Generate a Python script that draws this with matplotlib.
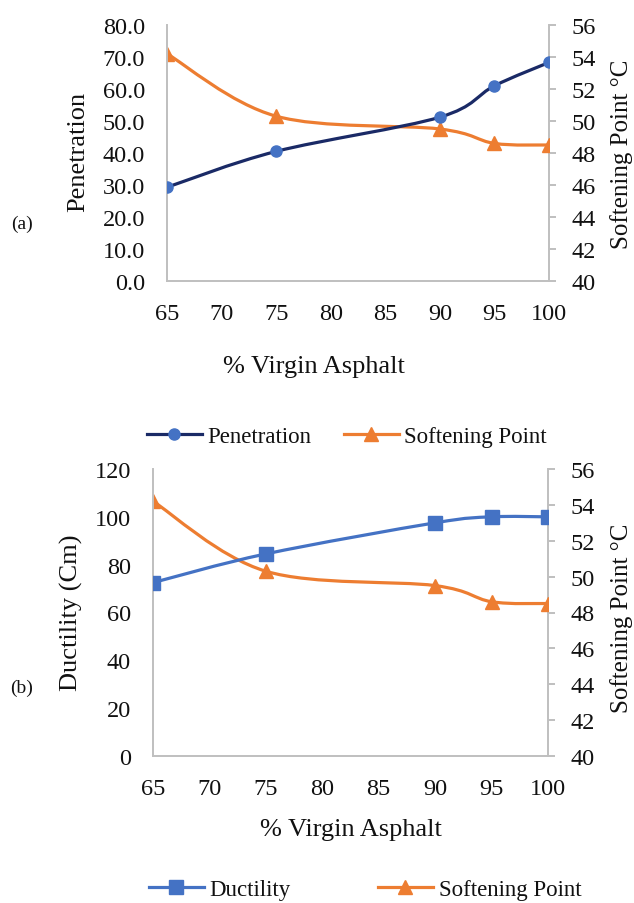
import numpy as np
import matplotlib
matplotlib.use("Agg")
import matplotlib.pyplot as plt
from matplotlib.path import Path
from matplotlib.patches import PathPatch
from matplotlib.lines import Line2D

plt.rcParams['font.family'] = ['Liberation Serif', 'DejaVu Serif']

# data
virgin = [65, 75, 90, 95, 100]
penetration = [29.3, 40.5, 51.2, 61.0, 68.3]
softening = [54.2, 50.3, 49.5, 48.6, 48.5]
ductility = [72.5, 84.5, 97.5, 100.0, 100.0]
x_ticks = [65, 70, 75, 80, 85, 90, 95, 100]

NAVY = '#1a2a66'
BLUE = '#4472C4'
ORANGE = '#ED7D31'
GRAY = '#BFBFBF'
TXT = '#111111'

W, H = 634, 904
TICK_FS = 17.5
LABEL_FS = 19


def smooth_path(xs, ys):
    # excel-like smoothed line: cubic bezier through the points
    pts = np.column_stack([xs, ys]).astype(float)
    n = len(pts)
    verts = [pts[0]]
    codes = [Path.MOVETO]
    for i in range(n - 1):
        p0 = pts[max(i - 1, 0)]
        p1 = pts[i]
        p2 = pts[i + 1]
        p3 = pts[min(i + 2, n - 1)]
        verts += [p1 + (p2 - p0) / 6, p2 - (p3 - p1) / 6, p2]
        codes += [Path.CURVE4] * 3
    return Path(verts, codes)


def box(l, r, t, b):
    return [l / W, 1 - b / H, (r - l) / W, (b - t) / H]


def style(ax, ax2, ylim, yticks, yfmt):
    ax.set_xlim(65, 100)
    ax.set_ylim(*ylim)
    ax.set_xticks(x_ticks)
    ax.set_yticks(yticks)
    ax.set_yticklabels([yfmt % v for v in yticks])
    ax2.set_ylim(40, 56)
    ax2.set_yticks(range(40, 57, 2))
    for a in (ax, ax2):
        for s in a.spines.values():
            s.set_visible(False)
        a.patch.set_visible(False)
    ax.spines['left'].set_visible(True)
    ax.spines['bottom'].set_visible(True)
    ax2.spines['right'].set_visible(True)
    for s in (ax.spines['left'], ax.spines['bottom'], ax2.spines['right']):
        s.set_color(GRAY)
        s.set_linewidth(1.4)
    ax.tick_params(axis='both', length=0, labelsize=TICK_FS, colors=TXT, pad=16)
    ax.tick_params(axis='x', pad=16)
    ax2.tick_params(axis='y', length=5, width=1.4, color=GRAY, labelsize=TICK_FS,
                    labelcolor=TXT, pad=11)


def draw(ax, xs, ys, lc, mc, marker, ms):
    ax.add_patch(PathPatch(smooth_path(xs, ys), fill=False, edgecolor=lc,
                           lw=2.3, capstyle='round', joinstyle='round', zorder=3))
    ax.plot(xs, ys, ls='none', marker=marker, ms=ms, color=mc, zorder=4)


fig = plt.figure(figsize=(W / 100, H / 100), dpi=100)

# (a) penetration / softening point
ax1 = fig.add_axes(box(167, 549, 26, 282))
ax1b = ax1.twinx()
style(ax1, ax1b, (0, 80), list(range(0, 81, 10)), '%.1f')
draw(ax1b, virgin, softening, ORANGE, ORANGE, '^', 10)
draw(ax1, virgin, penetration, NAVY, BLUE, 'o', 8)
ax1.set_zorder(ax1b.get_zorder() + 1)

fig.text(78 / W, 1 - 152 / H, 'Penetration', rotation=90, ha='center', va='center',
         fontsize=LABEL_FS, color=TXT)
fig.text(622 / W, 1 - 154 / H, 'Softening Point °C', rotation=90, ha='center',
         va='center', fontsize=18, color=TXT)
fig.text(314 / W, 1 - 367 / H, '% Virgin Asphalt', ha='center', va='center',
         fontsize=LABEL_FS, color=TXT)
fig.text(22 / W, 1 - 224 / H, '(a)', ha='center', va='center', fontsize=14, color=TXT)

h1 = [Line2D([], [], color=NAVY, lw=2.3, marker='o', ms=8, mfc=BLUE, mec=BLUE),
      Line2D([], [], color=ORANGE, lw=2.3, marker='^', ms=10)]
fig.legend(h1, ['Penetration', 'Softening Point'], loc='center',
           bbox_to_anchor=(347 / W, 1 - 437 / H), ncol=2, frameon=False,
           fontsize=16.5, handlelength=2.4, handletextpad=0.25, columnspacing=1.4,
           labelcolor=TXT)

# (b) ductility / softening point
ax2 = fig.add_axes(box(153, 548, 470, 757))
ax2b = ax2.twinx()
style(ax2, ax2b, (0, 120), list(range(0, 121, 20)), '%d')
draw(ax2b, virgin, softening, ORANGE, ORANGE, '^', 10)
draw(ax2, virgin, ductility, BLUE, BLUE, 's', 9.5)
ax2.set_zorder(ax2b.get_zorder() + 1)

fig.text(71 / W, 1 - 613 / H, 'Ductility (Cm)', rotation=90, ha='center', va='center',
         fontsize=LABEL_FS, color=TXT)
fig.text(622 / W, 1 - 618 / H, 'Softening Point °C', rotation=90, ha='center',
         va='center', fontsize=18, color=TXT)
fig.text(351 / W, 1 - 830 / H, '% Virgin Asphalt', ha='center', va='center',
         fontsize=LABEL_FS, color=TXT)
fig.text(22 / W, 1 - 688 / H, '(b)', ha='center', va='center', fontsize=14, color=TXT)

h2 = [Line2D([], [], color=BLUE, lw=2.3, marker='s', ms=9.5),
      Line2D([], [], color=ORANGE, lw=2.3, marker='^', ms=10)]
fig.legend(h2, ['Ductility', 'Softening Point'], loc='center',
           bbox_to_anchor=(365 / W, 1 - 890 / H), ncol=2, frameon=False,
           fontsize=16.5, handlelength=2.4, handletextpad=0.25, columnspacing=3.8,
           labelcolor=TXT)

fig.savefig('out.png', dpi=100)
